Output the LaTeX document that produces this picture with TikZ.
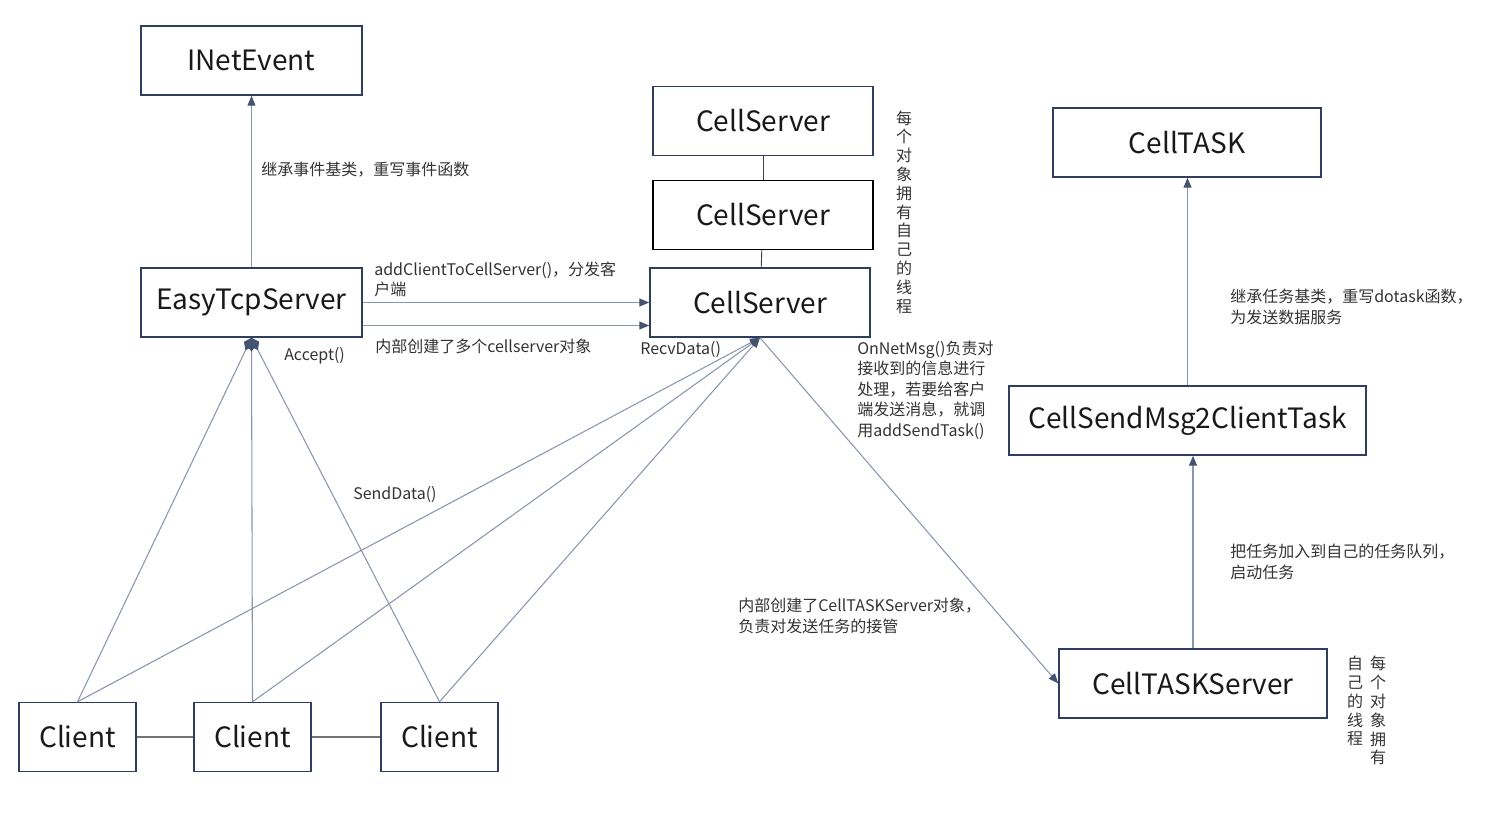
\documentclass[tikz,border=0pt]{standalone}
\usepackage{fontspec}
\setmainfont{Noto Sans CJK SC}
\usetikzlibrary{arrows.meta,positioning,calc}
\definecolor{c1}{RGB}{47,62,95}
\definecolor{c2}{RGB}{138,150,172}
\definecolor{c3}{RGB}{68,83,112}
\definecolor{c4}{RGB}{51,51,51}

\tikzset{
  box/.style={draw=c1,line width=1.1pt,minimum height=51.75pt,inner sep=0pt,
    font=\fontsize{21}{25}\selectfont,text=black!90},
  note/.style={anchor=west,inner sep=0pt,align=left,text=c4,
    font=\fontsize{12}{15.4}\selectfont},
  vnote/.style={inner sep=0pt,align=center,text=c4,
    font=\fontsize{12}{14.1}\selectfont},
  link/.style={draw=c2,line width=0.8pt},
  tip/.style={link,-{Triangle[length=7.5pt,width=6pt,color=c3]}},
  has/.style={link,-{Diamond[length=10.5pt,width=7.5pt,color=c3]}},
  stack/.style={draw=black!75,line width=0.7pt},
  peer/.style={draw=black!55,line width=0.8pt}
}

\begin{document}
\begin{tikzpicture}[x=0.75pt,y=-0.75pt]
  \useasboundingbox (0,0) rectangle (1507,816);

  % left side
  \node[box,minimum width=165.75pt] (inet) at (251.5,60.5) {INetEvent};
  \node[box,minimum width=165.75pt] (easy) at (251.5,302.5) {EasyTcpServer};

  % cell servers, one thread each
  \node[box,minimum width=165pt] (cs1) at (763,121) {CellServer};
  \node[box,minimum width=165pt,draw=black] (cs2) at (763,215) {CellServer};
  \node[box,minimum width=165pt] (cs3) at (760,302.5) {CellServer};

  % task side
  \node[box,minimum width=201pt] (task) at (1187,142.5) {CellTASK};
  \node[box,minimum width=267.75pt] (sendtask) at (1187.5,420.5) {CellSendMsg2ClientTask};
  \node[box,minimum width=201pt] (taskserver) at (1193,683.5) {CellTASKServer};

  % clients
  \foreach \i/\x in {1/77.5,2/252.5,3/439.5}
    \node[box,minimum width=87.75pt] (client\i) at (\x,737) {Client};

  % connectors
  \draw[tip] (easy.north) -- (inet.south);
  \draw[tip] (easy.east) -- (cs3.west);
  \draw[tip] ($(easy.east)+(0,23)$) -- ($(cs3.west)+(0,23)$);
  \draw[stack] (cs1) -- (cs2);
  \draw[stack] (cs2) -- (cs3);
  \foreach \i in {1,2,3} {
    \draw[has] (client\i.north) -- (easy.south);
    \draw[tip] (client\i.north) -- (cs3.south);
  }
  \draw[peer] (client1) -- (client2);
  \draw[peer] (client2) -- (client3);
  \draw[tip] (cs3.south) -- (taskserver.west);
  \draw[tip] (taskserver.north) -- (taskserver.north |- sendtask.south);
  \draw[tip] (sendtask.north) -- (sendtask.north |- task.south);

  % labels
  \node[note] (lbase) at (261,170) {继承事件基类，重写事件函数};
  \node[note] (ladd) at (374,279.5) {addClientToCellServer()，分发客\\户端};
  \node[note] (lmany) at (375,346) {内部创建了多个cellserver对象};
  \node[note] (laccept) at (284,356) {Accept()};
  \node[note] (lsend) at (353,495) {SendData()};
  \node[note] (lrecv) at (640,350) {RecvData()};
  \node[note] (lmsg) at (857,390) {OnNetMsg()负责对\\接收到的信息进行\\处理，若要给客户\\端发送消息，就调\\用addSendTask()};
  \node[note] (ltaskserver) at (738,616) {内部创建了CellTASKServer对象，\\负责对发送任务的接管};
  \node[note] (ltaskbase) at (1230,307) {继承任务基类，重写dotask函数，\\为发送数据服务};
  \node[note] (lqueue) at (1230,562) {把任务加入到自己的任务队列，\\启动任务};
  \node[vnote] (lthread) at (904,212) {每\\个\\对\\象\\拥\\有\\自\\己\\的\\线\\程};
  \node[vnote,anchor=north] (lthreada) at (1378,656) {每\\个\\对\\象\\拥\\有};
  \node[vnote,anchor=north] (lthreadb) at (1355,656) {自\\己\\的\\线\\程};
\end{tikzpicture}
\end{document}
